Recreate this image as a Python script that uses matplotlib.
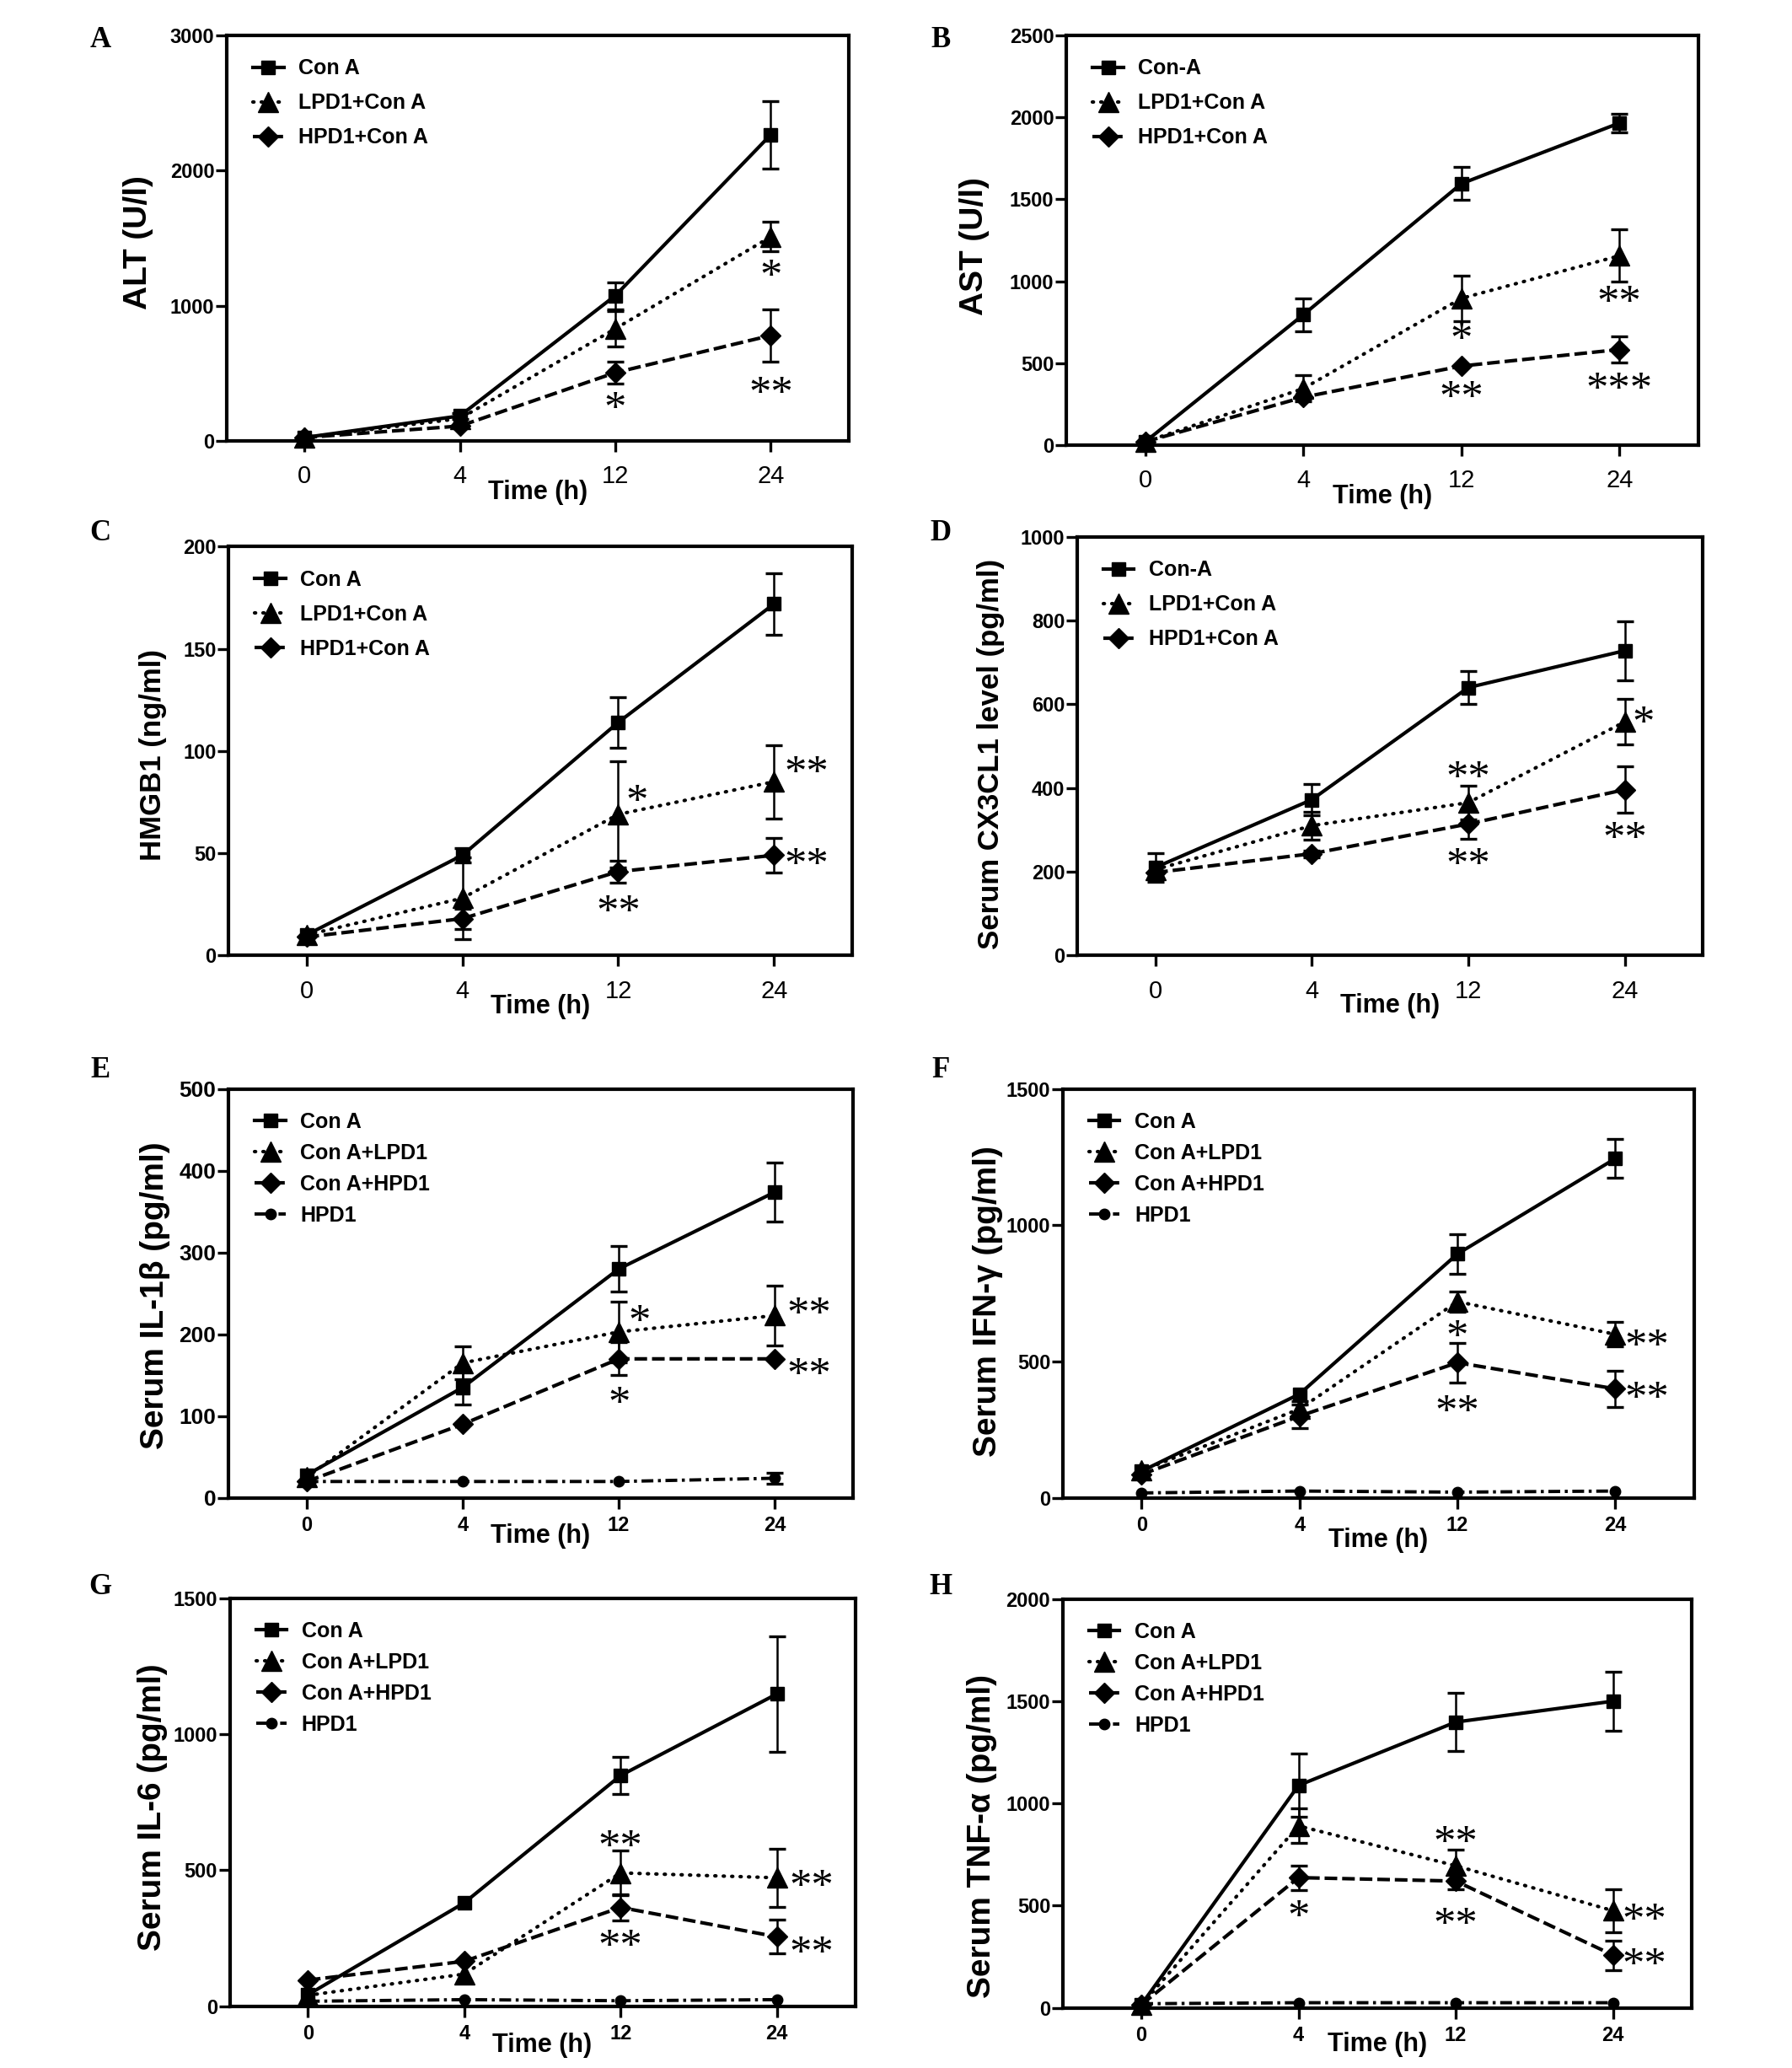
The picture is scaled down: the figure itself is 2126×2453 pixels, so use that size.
import numpy as np
import matplotlib
matplotlib.use("Agg")
import matplotlib.pyplot as plt
from matplotlib.lines import Line2D

times = ['0', '4', '12', '24']

# A - ALT
alt_con = [25, 185, 1075, 2265]
alt_con_err = [0, 20, 100, 250]
alt_lpd = [25, 165, 830, 1510]
alt_lpd_err = [0, 0, 130, 110]
alt_hpd = [25, 110, 505, 780]
alt_hpd_err = [0, 0, 80, 195]
alt_stars = [(1, 3, '*', 1290, 0), (2, 2, '*', 310, 0), (2, 3, '**', 420, 0)]

# B - AST
ast_con = [20, 795, 1595, 1965]
ast_con_err = [0, 100, 100, 55]
ast_lpd = [20, 345, 895, 1155]
ast_lpd_err = [0, 80, 140, 160]
ast_hpd = [20, 292, 482, 583]
ast_hpd_err = [0, 0, 0, 80]
ast_stars = [(1, 2, '*', 700, 0), (1, 3, '**', 925, 0),
             (2, 2, '**', 345, 0), (2, 3, '***', 395, 0)]

# C - HMGB1
hmg_con = [10, 49, 114, 172]
hmg_con_err = [0, 3.5, 12.5, 15]
hmg_lpd = [10, 28, 69, 85]
hmg_lpd_err = [0, 20, 26, 18]
hmg_hpd = [9, 18, 41, 49]
hmg_hpd_err = [0, 5, 5.5, 8.5]
hmg_stars = [(1, 2, '*', 80, 0.12), (1, 3, '**', 94, 0.21),
             (2, 2, '**', 26, 0), (2, 3, '**', 49, 0.21)]

# D - CX3CL1
cx3_con = [210, 372, 640, 728]
cx3_con_err = [35, 37, 39, 70]
cx3_lpd = [205, 310, 365, 558]
cx3_lpd_err = [0, 33, 40, 54]
cx3_hpd = [198, 243, 314, 396]
cx3_hpd_err = [0, 8, 35, 55]
cx3_stars = [(1, 3, '*', 578, 0.12), (1, 2, '**', 446, 0),
             (2, 2, '**', 240, 0), (2, 3, '**', 302, 0)]

# E - IL-1b
il1_con = [28, 135, 280, 374]
il1_con_err = [0, 21, 28, 36]
il1_lpd = [25, 165, 203, 223]
il1_lpd_err = [0, 20, 37, 37]
il1_hpd = [20, 90, 170, 170]
il1_hpd_err = [0, 0, 20, 0]
il1_only = [20, 20, 20, 24]
il1_only_err = [0, 0, 0, 7]
il1_stars = [(1, 2, '*', 227, 0.13), (1, 3, '**', 236, 0.22),
             (2, 2, '*', 127, 0), (2, 3, '**', 162, 0.22)]

# F - IFN-g
ifn_con = [98, 381, 895, 1245]
ifn_con_err = [0, 0, 72, 72]
ifn_lpd = [100, 326, 720, 600]
ifn_lpd_err = [0, 30, 37, 45]
ifn_hpd = [86, 300, 496, 400]
ifn_hpd_err = [0, 43, 72, 67]
ifn_only = [18, 25, 21, 25]
ifn_only_err = [0, 0, 0, 0]
ifn_stars = [(1, 2, '*', 625, 0), (1, 3, '**', 590, 0.2),
             (2, 2, '**', 350, 0), (2, 3, '**', 400, 0.2)]

# G - IL-6
il6_con = [42, 380, 848, 1148]
il6_con_err = [0, 0, 68, 213]
il6_lpd = [40, 118, 490, 472]
il6_lpd_err = [0, 0, 82, 107]
il6_hpd = [96, 165, 363, 255]
il6_hpd_err = [0, 0, 48, 62]
il6_only = [18, 24, 20, 24]
il6_only_err = [0, 0, 0, 0]
il6_stars = [(1, 2, '**', 620, 0), (1, 3, '**', 473, 0.22),
             (2, 2, '**', 255, 0), (2, 3, '**', 228, 0.22)]

# H - TNF-a
tnf_con = [15, 1088, 1398, 1500]
tnf_con_err = [0, 155, 143, 143]
tnf_lpd = [15, 890, 695, 475]
tnf_lpd_err = [0, 85, 80, 104]
tnf_hpd = [15, 637, 620, 258]
tnf_hpd_err = [0, 60, 40, 72]
tnf_only = [20, 25, 25, 25]
tnf_only_err = [0, 0, 0, 0]
tnf_stars = [(2, 1, '*', 490, 0), (1, 2, '**', 855, 0), (2, 2, '**', 455, 0),
             (1, 3, '**', 475, 0.2), (2, 3, '**', 255, 0.2)]

labels_ab = ['Con A', 'LPD1+Con A', 'HPD1+Con A']
labels_bd = ['Con-A', 'LPD1+Con A', 'HPD1+Con A']
labels_eh = ['Con A', 'Con A+LPD1', 'Con A+HPD1', 'HPD1']

narrow = ['Liberation Sans Narrow', 'Liberation Sans', 'DejaVu Sans']
sans = ['Liberation Sans', 'DejaVu Sans']
serif = ['Liberation Serif', 'DejaVu Serif']

styles = [
    dict(ls='-', marker='s', ms=12, lw=3.0),
    dict(ls=(0, (0.3, 2.1)), marker='^', ms=17, lw=3.0),
    dict(ls=(0, (3.6, 1.4)), marker='D', ms=12.5, lw=3.0),
    dict(ls=(0, (3.6, 1.4, 0.9, 1.4)), marker='o', ms=9, lw=2.8),
]

fig = plt.figure(figsize=(21.26, 24.53), dpi=100)

panels = [
    # letter, rect, letter pos, series, labels, ymax, ystep, ylabel, size, label x, label y,
    # top row style, stars, xlabel y, ytick size
    ('A', [0.1265, 0.7868, 0.347, 0.1961], (0.056, 0.9806),
     [(alt_con, alt_con_err), (alt_lpd, alt_lpd_err), (alt_hpd, alt_hpd_err)],
     labels_ab, 3000, 1000, 'ALT (U/l)', 28, -0.142, 0.49, True, alt_stars, -0.127, 17),
    ('B', [0.595, 0.7848, 0.3528, 0.1981], (0.525, 0.9806),
     [(ast_con, ast_con_err), (ast_lpd, ast_lpd_err), (ast_hpd, ast_hpd_err)],
     labels_bd, 2500, 500, 'AST (U/l)', 28, -0.145, 0.486, True, ast_stars, -0.125, 17),
    ('C', [0.1275, 0.5380, 0.348, 0.1977], (0.056, 0.742),
     [(hmg_con, hmg_con_err), (hmg_lpd, hmg_lpd_err), (hmg_hpd, hmg_hpd_err)],
     labels_ab, 200, 50, 'HMGB1 (ng/ml)', 25, -0.1215, 0.49, True, hmg_stars, -0.125, 17),
    ('D', [0.601, 0.5380, 0.3493, 0.2024], (0.525, 0.742),
     [(cx3_con, cx3_con_err), (cx3_lpd, cx3_lpd_err), (cx3_hpd, cx3_hpd_err)],
     labels_bd, 1000, 200, 'Serum CX3CL1 level (pg/ml)', 25, -0.138, 0.482, True, cx3_stars, -0.12, 17),
    ('E', [0.1275, 0.2757, 0.3485, 0.1977], (0.056, 0.4823),
     [(il1_con, il1_con_err), (il1_lpd, il1_lpd_err), (il1_hpd, il1_hpd_err), (il1_only, il1_only_err)],
     labels_eh, 500, 100, 'Serum IL-1\u03b2 (pg/ml)', 28, -0.117, 0.494, False, il1_stars, -0.094, 19),
    ('F', [0.593, 0.2757, 0.3525, 0.1977], (0.525, 0.4823),
     [(ifn_con, ifn_con_err), (ifn_lpd, ifn_lpd_err), (ifn_hpd, ifn_hpd_err), (ifn_only, ifn_only_err)],
     labels_eh, 1500, 500, 'Serum IFN-\u03b3 (pg/ml)', 28, -0.118, 0.48, False, ifn_stars, -0.104, 17),
    ('G', [0.1282, 0.0299, 0.349, 0.1973], (0.056, 0.2324),
     [(il6_con, il6_con_err), (il6_lpd, il6_lpd_err), (il6_hpd, il6_hpd_err), (il6_only, il6_only_err)],
     labels_eh, 1500, 500, 'Serum IL-6 (pg/ml)', 28, -0.1236, 0.487, False, il6_stars, -0.096, 17),
    ('H', [0.593, 0.0291, 0.351, 0.1977], (0.525, 0.2324),
     [(tnf_con, tnf_con_err), (tnf_lpd, tnf_lpd_err), (tnf_hpd, tnf_hpd_err), (tnf_only, tnf_only_err)],
     labels_eh, 2000, 500, 'Serum TNF-\u03b1 (pg/ml)', 28, -0.128, 0.42, False, tnf_stars, -0.09, 17),
]

x = np.arange(len(times))
star_fs = 38

for (letter, rect, lpos, series, labels, ymax, ystep, ylab, ylsize, ylx, yly,
     toprow, stars, xly, ytsize) in panels:
    ax = fig.add_axes(rect)
    handles = []
    for k, (vals, errs) in enumerate(series):
        st = styles[k]
        vals = np.array(vals, float)
        errs = np.array(errs, float)
        cap = 'round' if k == 1 else 'butt'
        ax.plot(x, vals, color='k', ls=st['ls'], lw=st['lw'], marker=st['marker'],
                ms=st['ms'], mec='k', mfc='k', clip_on=False, zorder=3,
                dash_capstyle=cap)
        m = errs > 0
        if m.any():
            ax.errorbar(x[m], vals[m], yerr=errs[m], fmt='none', ecolor='k',
                        elinewidth=1.8, capsize=7, capthick=2.4, zorder=2, clip_on=False)
        handles.append(Line2D([], [], color='k', ls=st['ls'], lw=st['lw'],
                              marker=st['marker'], ms=st['ms'],
                              dash_capstyle=cap))
    ax.legend(handles, labels, loc='upper left', frameon=False, numpoints=1,
              handlelength=1.45, handletextpad=0.7,
              labelspacing=0.68 if toprow else 0.52,
              borderaxespad=0.5, bbox_to_anchor=(0.012, 0.99),
              prop=dict(family=narrow, weight='bold', size=18))

    for (si, ti, txt, yv, dx) in stars:
        ax.annotate(txt, (ti + dx, yv), xytext=(0, -0.5 * star_fs),
                    textcoords='offset points', ha='center', va='baseline',
                    fontsize=star_fs, family=serif, zorder=5)

    ax.set_xlim(-0.5, 3.5)
    ax.set_ylim(0, ymax)
    yt = np.arange(0, ymax + 1, ystep)
    ax.set_yticks(yt, [str(int(v)) for v in yt], family=narrow, weight='bold',
                  fontsize=ytsize)
    if toprow:
        ax.set_xticks(x, times, family=narrow, fontsize=21)
        ax.tick_params(axis='x', pad=11)
    else:
        ax.set_xticks(x, times, family=narrow, weight='bold', fontsize=17)
        ax.tick_params(axis='x', pad=6)
    ax.tick_params(axis='both', direction='out', length=9.5, width=2.4)
    ax.tick_params(axis='y', pad=1)
    for sp in ax.spines.values():
        sp.set_linewidth(3.0)

    ax.set_ylabel(ylab, family=sans, weight='bold', fontsize=ylsize, va='center')
    ax.yaxis.set_label_coords(ylx, yly)
    ax.set_xlabel('Time (h)', family=narrow, weight='bold', fontsize=22, va='center')
    ax.xaxis.set_label_coords(0.5, xly)

    fig.text(lpos[0], lpos[1], letter, family=serif, weight='bold', fontsize=25,
             ha='center', va='center')

fig.savefig('out.png', dpi=100)
